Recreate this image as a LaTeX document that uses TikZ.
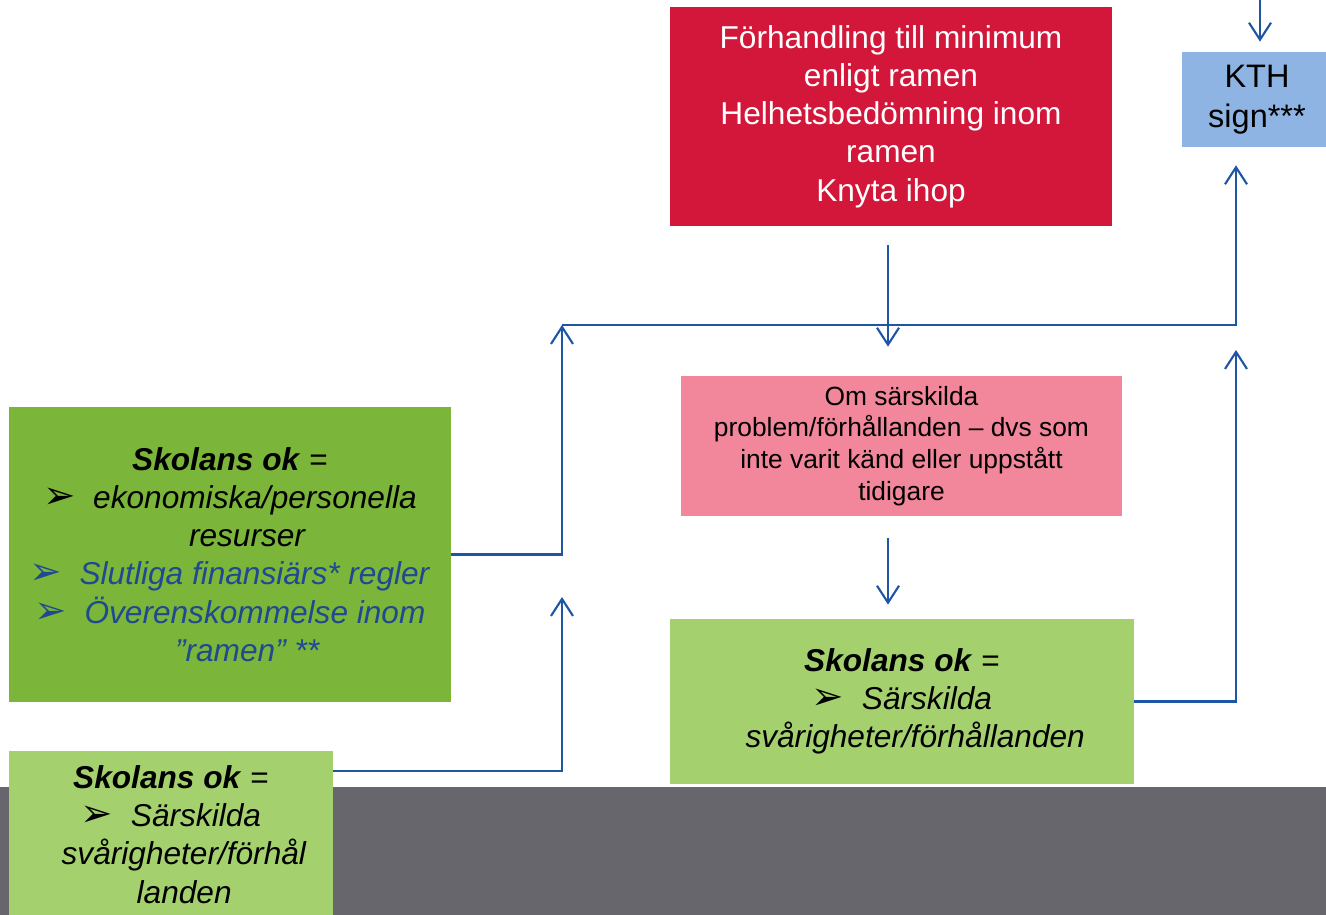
\documentclass[tikz,border=0pt]{standalone}
\usepackage{fontspec}
\setmainfont{Liberation Sans}
\newfontfamily\dingfont{DejaVu Sans}
\usetikzlibrary{arrows.meta, positioning}

\definecolor{boxred}{RGB}{210,23,58}
\definecolor{boxpink}{RGB}{242,134,155}
\definecolor{boxkth}{RGB}{141,180,226}
\definecolor{darkgreen}{RGB}{123,181,58}
\definecolor{lightgreen}{RGB}{164,209,110}
\definecolor{bandgray}{RGB}{102,102,108}
\definecolor{lineblue}{RGB}{30,85,165}
\definecolor{txtblue}{RGB}{31,73,145}

\newcommand{\pil}{{\dingfont\fontsize{22}{21.8}\selectfont\char"27A2}}
\newcommand{\ok}{\textbf{\textit{Skolans ok}} =}

\begin{document}
\begin{tikzpicture}[x=0.02cm, y=-0.02cm,
    >={Straight Barb[length=0.34cm,width=0.44cm]},
    flow/.style={draw=lineblue, line width=1.2pt},
    box/.style={inner sep=0pt, align=center, font=\fontsize{18}{21.8}\selectfont}]
    \useasboundingbox (0,0) rectangle (1326,915);
    % grey band at the bottom
    \fill[bandgray] (0,787) rectangle (1326,915);

    \node[box, fill=boxred, text=white, minimum width=8.84cm, minimum height=4.38cm]
        (forh) at (891,116.5) {F\"orhandling till minimum\\enligt ramen\\Helhetsbed\"omning inom\\ramen\\Knyta ihop};
    \node[box, fill=boxkth, minimum width=3cm, minimum height=1.9cm,
        font=\fontsize{18.5}{22.7}\selectfont]
        (kth) at (1257,99.5) {KTH\\sign***};
    \node[box, fill=boxpink, minimum width=8.82cm, minimum height=2.8cm,
        font=\fontsize{15}{18.1}\selectfont]
        (om) at (901.5,446) {Om s\"arskilda\\problem/f\"orh\aa llanden -- dvs som\\inte varit k\"and eller uppst\aa tt\\tidigare};
    \node[box, fill=lightgreen, minimum width=9.28cm, minimum height=3.3cm]
        (okright) at (902,701.5) {\ok\\\pil\ \ \textit{S\"arskilda}\\\ \ \ \textit{sv\aa righeter/f\"orh\aa llanden}};
    \node[box, fill=darkgreen, minimum width=8.84cm, minimum height=5.9cm]
        (okmain) at (230,554.5) {\ok\\\pil\ \ \textit{ekonomiska/personella}\\\ \ \ \ \textit{resurser}\\
        \textcolor{txtblue}{\pil\ \ \textit{Slutliga finansi\"ars* regler}}\\
        \textcolor{txtblue}{\pil\ \ \textit{\"Overenskommelse inom}}\\
        \textcolor{txtblue}{\ \ \ \ \textit{"ramen" **}}};
    \node[box, fill=lightgreen, minimum width=6.48cm, minimum height=3.34cm]
        (okleft) at (171,834.5) {\ok\\\pil\ \ \textit{S\"arskilda}\\\ \ \ \textit{sv\aa righeter/f\"orh\aa l}\\\ \ \ \textit{landen}};

    \coordinate (top) at (1260,0);
    \coordinate (join) at (562,325);
    \coordinate (tipleft) at (562,597);
    \coordinate (tipright) at (1236,350);

    \draw[flow, ->, shorten >=0.2cm] (top) -- (top |- kth.north);
    \draw[flow, ->, shorten <=0.38cm, shorten >=0.58cm]
        ([xshift=-0.06cm]forh.south) -- ([xshift=-0.06cm]forh.south |- om.north);
    \draw[flow, ->, shorten <=0.44cm, shorten >=0.28cm]
        ([xshift=-0.27cm]om.south) -- ([xshift=-0.27cm]om.south |- okright.north);
    \draw[flow, ->] (okmain.east) -| (join);
    \draw[flow, ->, shorten >=0.36cm] (join) -| ([xshift=-0.42cm]kth.south);
    \draw[flow, ->] ([yshift=1.27cm]okleft.east) -| (tipleft);
    \draw[flow, ->] (okright.east) -| (tipright);
\end{tikzpicture}
\end{document}
